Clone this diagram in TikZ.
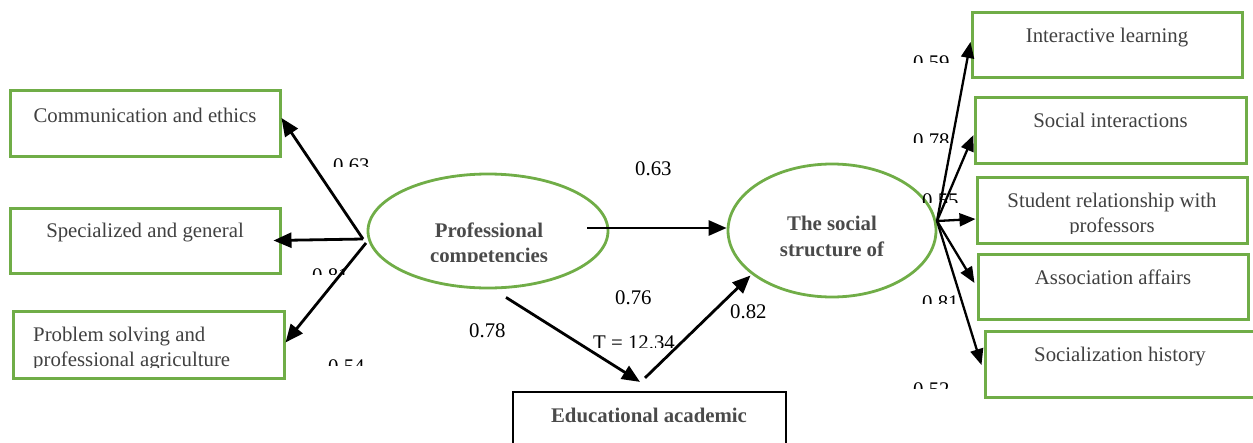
\documentclass[tikz,border=0pt]{standalone}
\usepackage{fontspec}
\setmainfont{Liberation Serif}
\usetikzlibrary{arrows.meta,shapes.geometric,calc}
\definecolor{grn}{HTML}{70AD47}
\definecolor{txt}{HTML}{404040}
\definecolor{btx}{HTML}{4A4A4A}
\begin{document}
\begin{tikzpicture}[x=1pt,y=-1pt,
  gbox/.style={draw=grn,line width=3pt,inner sep=0pt},
  kbox/.style={draw=black,line width=2.2pt,inner sep=0pt},
  ell/.style={ellipse,draw=grn,line width=2.8pt,inner sep=0pt},
  btxt/.style={font=\fontsize{20.8}{25}\selectfont,text=txt,anchor=base,inner sep=0pt},
  bbtxt/.style={font=\fontsize{20.8}{25}\selectfont\bfseries,text=btx,anchor=base,inner sep=0pt},
  num/.style={font=\fontsize{20.8}{25}\selectfont,text=black,anchor=base west,inner sep=0pt},
  arr/.style={line width=2.8pt,-{Triangle[length=18pt,width=15pt]}},
  arrs/.style={line width=2.3pt,-{Triangle[length=16pt,width=13pt]}}]
\useasboundingbox (0,0) rectangle (1253,442);

% left boxes
\node[gbox,minimum width=270pt,minimum height=66pt] (b1) at (145,123) {};
\node[gbox,minimum width=270pt,minimum height=65pt] (b2) at (145,240.5) {};
\node[gbox,minimum width=271pt,minimum height=67pt] (b3) at (148.5,344.5) {};
\node[btxt] (b1t) at (145,122) {Communication and ethics};
\node[btxt] (b2t) at (145,237) {Specialized and general};
\node[btxt,anchor=base west] (b3t) at (33,341) {Problem solving and};
\begin{scope}
\clip (20,345) rectangle (270,367);
\node[btxt,anchor=base west] (b3u) at (33,366) {professional agriculture};
\end{scope}

% right boxes
\node[gbox,minimum width=270pt,minimum height=65pt] (r1) at (1107,44.5) {};
\node[gbox,minimum width=271pt,minimum height=66pt] (r2) at (1110.5,130) {};
\node[gbox,minimum width=270pt,minimum height=66pt] (r3) at (1112,210) {};
\node[gbox,minimum width=270pt,minimum height=65pt] (r4) at (1113,286.5) {};
\node[gbox,minimum width=270pt,minimum height=66pt] (r5) at (1120,364) {};
\node[btxt] (r1t) at (1107,42) {Interactive learning};
\node[btxt] (r2t) at (1110.5,127) {Social interactions};
\node[btxt] (r3t) at (1112,207) {Student relationship with};
\begin{scope}
\clip (1000,212) rectangle (1230,233);
\node[btxt] (r3u) at (1112,232) {professors};
\end{scope}
\node[btxt] (r4t) at (1113,284) {Association affairs};
\node[btxt] (r5t) at (1120,361) {Socialization history};

% ellipses
\node[ell,minimum width=240pt,minimum height=114pt] (e1) at (488,231) {};
\node[bbtxt] (e1t) at (489,237) {Professional};
\begin{scope}
\clip (400,242) rectangle (580,261);
\node[bbtxt] (e1u) at (489,262) {competencies};
\end{scope}
\node[ell,minimum width=208pt,minimum height=133pt] (e2) at (832,230.5) {};
\node[bbtxt] (e2t) at (832,230) {The social};
\node[bbtxt] (e2u) at (832,256) {structure of};

% bottom box
\node[kbox,minimum width=273pt,minimum height=78pt] (bot) at (649.5,431) {};
\node[bbtxt] (bott) at (649,422) {Educational academic};

% left connectors
\coordinate (vL) at (363,239);
\coordinate (vL2) at (366,243);
\draw[arr] (vL) -- ([yshift=5pt]b1.east);
\draw[arr] (vL) -- ([xshift=-8pt]b2.east);
\draw[arr] (vL2) -- ([yshift=2pt]b3.east);

% middle connectors
\draw[arr] ([xshift=-22pt,yshift=3pt]e1.east) -- ([yshift=2.5pt]e2.west);
\draw[arr] ([xshift=18pt,yshift=-8pt]e1.south) -- ([xshift=-9.5pt,yshift=9pt]bot.north);
\draw[arr] ([xshift=-4.5pt,yshift=13pt]bot.north) -- ([xshift=-7pt,yshift=3pt]e2.south west);

% right connectors
\coordinate (vR) at (937,221);
\draw[arrs] (vR) -- ([yshift=2.5pt]r1.west);
\draw[arrs] (vR) -- ([yshift=-5pt]r2.west);
\draw[arrs] (vR) -- ([yshift=-9pt]r3.west);
\draw[arrs] (vR) -- ([xshift=-2pt,yshift=3.5pt]r4.west);
\draw[arrs] (vR) -- ([xshift=-2pt,yshift=-1pt]r5.west);

% labels, full
\node[num] (l63m) at (635,175) {0.63};
\node[num] (l78) at (469,337) {0.78};
\node[num] (l76) at (615,304) {0.76};
\node[num] (l82) at (730,318) {0.82};

% labels, cut off
\begin{scope}\clip (320,150) rectangle (380,166);
\node[num] (l63) at (333,172) {0.63};\end{scope}
\begin{scope}\clip (300,260) rectangle (360,274);
\node[num] (l81) at (312,282) {0.81};\end{scope}
\begin{scope}\clip (320,350) rectangle (375,365);
\node[num] (l54) at (328,373) {0.54};\end{scope}
\begin{scope}\clip (585,325) rectangle (690,347);
\node[num] (lT) at (593,349) {T = 12.34};\end{scope}
\begin{scope}\clip (905,45) rectangle (960,62);
\node[num] (l59) at (913,69) {0.59};\end{scope}
\begin{scope}\clip (905,125) rectangle (960,142);
\node[num] (l78r) at (913,147) {0.78};\end{scope}
\begin{scope}\clip (915,185) rectangle (970,202);
\node[num] (l55) at (922,207) {0.55};\end{scope}
\begin{scope}\clip (915,285) rectangle (970,303);
\node[num] (l81r) at (922,309) {0.81};\end{scope}
\begin{scope}\clip (905,375) rectangle (960,388);
\node[num] (l52) at (913,396) {0.52};\end{scope}
\end{tikzpicture}
\end{document}
